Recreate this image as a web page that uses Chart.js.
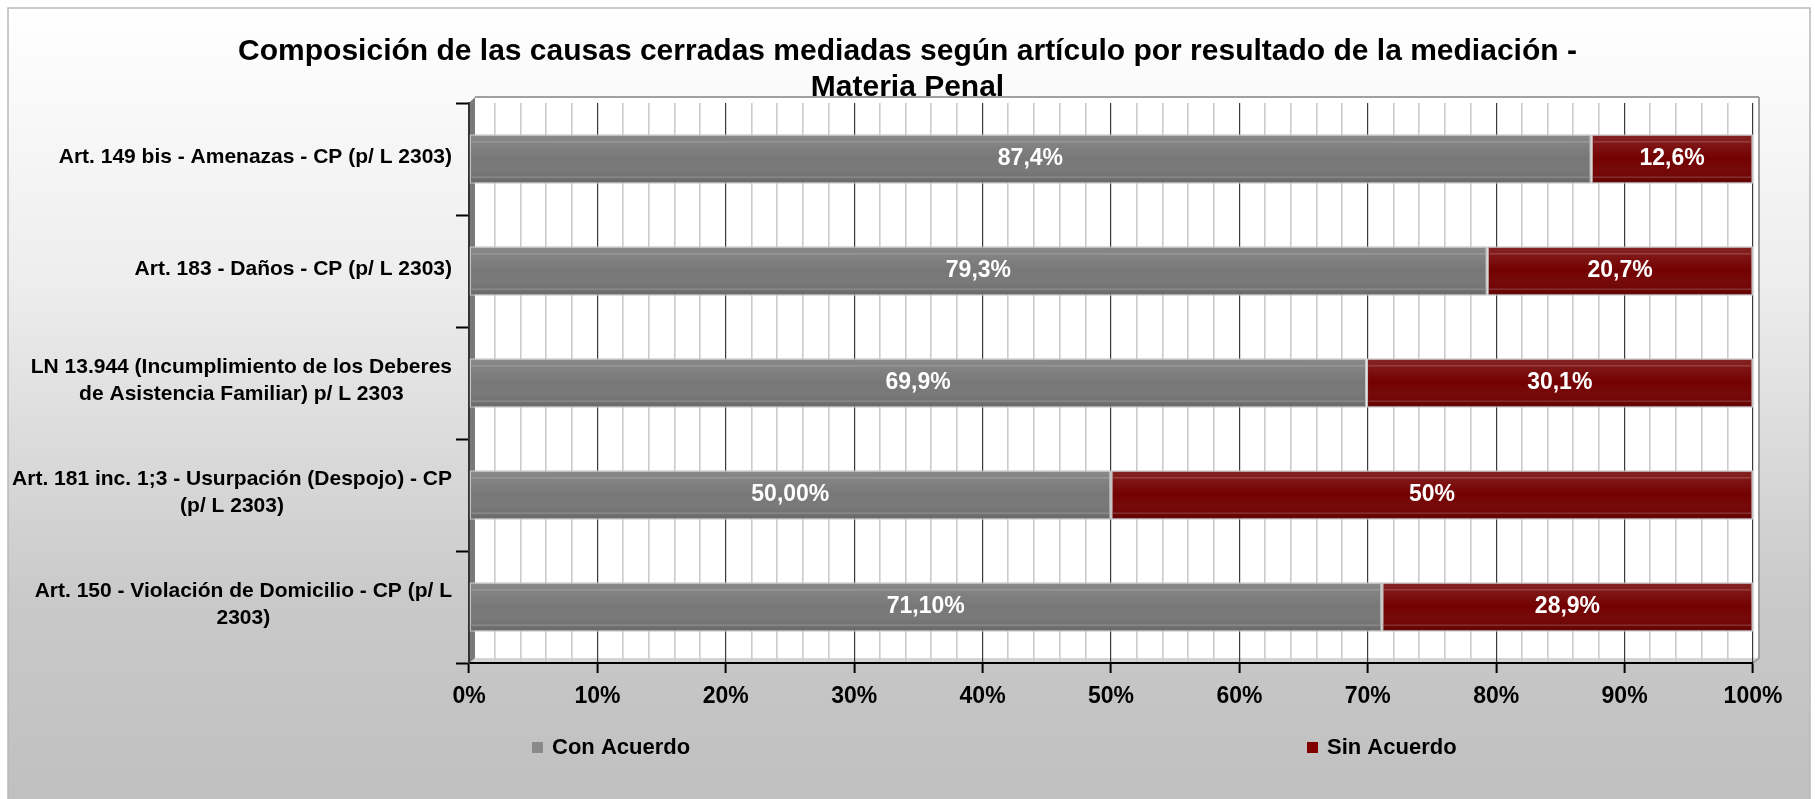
<!DOCTYPE html>
<html>
<head>
<meta charset="utf-8">
<title>Composición de las causas cerradas mediadas</title>
<script src="https://cdn.jsdelivr.net/npm/chart.js@4/dist/chart.umd.min.js"></script>
<style>
  html, body { margin: 0; padding: 0; background: #fff; }
  canvas { display: block; }
</style>
</head>
<body>
<canvas id="chartMediacion" width="1815" height="799"></canvas>
<script>
// Composición de las causas cerradas mediadas — materia penal

var categories = [
    'Art. 149 bis - Amenazas - CP (p/ L 2303)',
    'Art. 183 - Daños - CP (p/ L 2303)',
    ['LN 13.944 (Incumplimiento de los Deberes', 'de Asistencia Familiar) p/ L 2303'],
    ['Art. 181 inc. 1;3 - Usurpación (Despojo) - CP', '(p/ L 2303)'],
    ['Art. 150 - Violación de Domicilio - CP (p/ L', '2303)']
];
var conAcuerdo       = [87.4, 79.3, 69.9, 50.0, 71.1];
var sinAcuerdo       = [12.6, 20.7, 30.1, 50.0, 28.9];
var conAcuerdoLabels = ['87,4%', '79,3%', '69,9%', '50,00%', '71,10%'];
var sinAcuerdoLabels = ['12,6%', '20,7%', '30,1%', '50%', '28,9%'];
var xTickLabels      = ['0%', '10%', '20%', '30%', '40%', '50%', '60%', '70%', '80%', '90%', '100%'];

var FONT = '"Liberation Sans", Arial, sans-serif';

(function () {

var canvas = document.getElementById('chartMediacion');

// ── background panel + 3D-ish plot walls (drawn before the title) ───────
var panelPlugin = {
    id: 'panel',
    beforeDraw: function (chart) {
        var ctx = chart.ctx, a = chart.chartArea;
        ctx.save();
        ctx.fillStyle = '#ffffff';
        ctx.fillRect(0, 0, chart.width, chart.height);
        var g = ctx.createLinearGradient(0, 8, 0, chart.height);
        g.addColorStop(0, '#ffffff');
        g.addColorStop(0.35, '#ededed');
        g.addColorStop(0.75, '#c9c9c9');
        g.addColorStop(1, '#c0c0c0');
        ctx.fillStyle = g;
        ctx.fillRect(8, 8, 1802, chart.height);
        ctx.strokeStyle = '#b8b8b8';
        ctx.lineWidth = 1.5;
        ctx.strokeRect(8, 8, 1802, chart.height + 4);

        // back wall
        ctx.fillStyle = '#ffffff';
        ctx.fillRect(a.left, a.top - 6, a.right - a.left + 6, a.bottom - a.top + 2);
        // floor strip
        ctx.fillStyle = '#d4d4d4';
        ctx.beginPath();
        ctx.moveTo(a.left, a.bottom);
        ctx.lineTo(a.left + 6, a.bottom - 5);
        ctx.lineTo(a.right + 6, a.bottom - 5);
        ctx.lineTo(a.right, a.bottom);
        ctx.closePath();
        ctx.fill();
        // right + top edges
        ctx.strokeStyle = '#a0a0a0';
        ctx.lineWidth = 2;
        ctx.beginPath();
        ctx.moveTo(a.right + 6, a.top - 6);
        ctx.lineTo(a.right + 6, a.bottom - 5);
        ctx.lineTo(a.right, a.bottom);
        ctx.moveTo(a.left + 6, a.top - 6);
        ctx.lineTo(a.right + 6, a.top - 6);
        ctx.stroke();
        // left wall
        ctx.fillStyle = '#7a7a7a';
        ctx.beginPath();
        ctx.moveTo(a.left, a.top);
        ctx.lineTo(a.left + 6, a.top - 6);
        ctx.lineTo(a.left + 6, a.bottom - 5);
        ctx.lineTo(a.left, a.bottom);
        ctx.closePath();
        ctx.fill();
        ctx.restore();
    }
};

// ── shading on bars + value labels ───────────────────────────────────────
var barLabelPlugin = {
    id: 'barLabels',
    afterDatasetsDraw: function (chart) {
        var ctx = chart.ctx;
        var texts = [conAcuerdoLabels, sinAcuerdoLabels];
        ctx.save();
        chart.data.datasets.forEach(function (ds, di) {
            chart.getDatasetMeta(di).data.forEach(function (bar, i) {
                var h = bar.height, top = bar.y - h / 2;
                var g = ctx.createLinearGradient(0, top, 0, top + h);
                g.addColorStop(0, 'rgba(255,255,255,0.14)');
                g.addColorStop(0.5, 'rgba(255,255,255,0)');
                g.addColorStop(1, 'rgba(0,0,0,0.14)');
                ctx.fillStyle = g;
                ctx.fillRect(bar.base + 1, top + 1, bar.x - bar.base - 2, h - 2);
                ctx.strokeStyle = 'rgba(255,255,255,0.25)';
                ctx.lineWidth = 1;
                ctx.beginPath();
                ctx.moveTo(bar.base + 2, top + 7.5);
                ctx.lineTo(bar.x - 2, top + 7.5);
                ctx.moveTo(bar.base + 2, top + h - 6.5);
                ctx.lineTo(bar.x - 2, top + h - 6.5);
                ctx.stroke();

                ctx.fillStyle = '#ffffff';
                ctx.font = 'bold 23px ' + FONT;
                ctx.textAlign = 'center';
                ctx.textBaseline = 'middle';
                ctx.fillText(texts[di][i], (bar.x + bar.base) / 2, bar.y);
            });
        });
        ctx.restore();
    }
};

// ── category labels: right-aligned block, centred lines ─────────────────
var yLabelPlugin = {
    id: 'yLabels',
    afterDraw: function (chart) {
        var ctx = chart.ctx, y = chart.scales.y;
        ctx.save();
        ctx.font = 'bold 21px ' + FONT;
        ctx.fillStyle = '#000';
        ctx.textBaseline = 'middle';
        ctx.textAlign = 'center';
        var right = y.right - 17, lh = 27;
        chart.data.labels.forEach(function (lab, i) {
            var lines = Array.isArray(lab) ? lab : [lab];
            var w = 0;
            lines.forEach(function (l) { w = Math.max(w, ctx.measureText(l).width); });
            var cx = right - w / 2;
            var cy = y.getPixelForTick(i) - 2 - (lines.length - 1) * lh / 2;
            lines.forEach(function (l, k) { ctx.fillText(l, cx, cy + k * lh); });
        });
        ctx.restore();
    }
};

// ── legend, spaced like the original ─────────────────────────────────────
var legendPlugin = {
    id: 'wideLegend',
    afterDraw: function (chart) {
        var ctx = chart.ctx;
        var xs = [532, 1307], yc = 748;
        ctx.save();
        ctx.font = 'bold 22px ' + FONT;
        ctx.textBaseline = 'middle';
        ctx.textAlign = 'left';
        chart.data.datasets.forEach(function (ds, di) {
            ctx.fillStyle = ds.legendColor;
            ctx.fillRect(xs[di], yc - 6, 11, 11);
            ctx.fillStyle = '#000';
            ctx.fillText(ds.label, xs[di] + 20, yc);
        });
        ctx.restore();
    }
};

new Chart(canvas, {
    type: 'bar',
    data: {
        labels: categories,
        datasets: [{
            label: 'Con Acuerdo',
            data: conAcuerdo,
            backgroundColor: '#777777',
            legendColor: '#8a8a8a',
            borderColor: '#c4c4c4',
            borderWidth: 1.5,
            borderSkipped: false
        }, {
            label: 'Sin Acuerdo',
            data: sinAcuerdo,
            backgroundColor: '#730000',
            legendColor: '#800000',
            borderColor: '#c4c4c4',
            borderWidth: 1.5,
            borderSkipped: false
        }]
    },
    options: {
        indexAxis: 'y',
        responsive: false,
        animation: false,
        devicePixelRatio: 1,
        categoryPercentage: 0.88,
        barPercentage: 0.5,
        layout: { padding: 0 },
        plugins: {
            legend: { display: false },
            tooltip: { enabled: false },
            title: {
                display: true,
                text: ['Composición de las causas cerradas mediadas según artículo por resultado de la mediación -',
                       'Materia Penal'],
                color: '#000',
                font: { family: FONT, size: 30, weight: 'bold', lineHeight: 1.2 },
                padding: { top: 34, bottom: -3 }
            }
        },
        scales: {
            x: {
                stacked: true,
                min: 0,
                max: 100,
                afterFit: function (s) { s.height = 136; },
                ticks: {
                    stepSize: 2,
                    autoSkip: false,
                    maxRotation: 0,
                    padding: 10,
                    color: '#000',
                    font: { family: FONT, size: 23, weight: 'bold' },
                    callback: function (v) { return v % 10 === 0 ? xTickLabels[v / 10] : ''; }
                },
                grid: {
                    color: function (c) { return c.tick && c.tick.value % 10 === 0 ? '#3a3a3a' : '#cbcbcb'; },
                    lineWidth: function (c) { return c.tick && c.tick.value % 10 === 0 ? 1.2 : 1.6; },
                    tickColor: function (c) { return c.tick && c.tick.value % 10 === 0 ? '#000' : 'rgba(0,0,0,0)'; },
                    tickLength: 10,
                    tickWidth: 2
                },
                border: { display: true, color: '#000', width: 2 }
            },
            y: {
                stacked: true,
                afterFit: function (s) { s.width = 469; },
                ticks: { display: false },
                grid: {
                    offset: true,
                    drawOnChartArea: false,
                    drawTicks: true,
                    tickLength: 13,
                    tickWidth: 2,
                    tickColor: '#000'
                },
                border: { display: true, color: '#333', width: 2 }
            },
            // empty right margin, so the title stays centred on the whole canvas
            yRight: {
                type: 'category',
                position: 'right',
                afterFit: function (s) { s.width = 62; },
                ticks: { display: false },
                grid: { display: false },
                border: { display: false }
            }
        }
    },
    plugins: [panelPlugin, barLabelPlugin, yLabelPlugin, legendPlugin]
});

}());
</script>
</body>
</html>
